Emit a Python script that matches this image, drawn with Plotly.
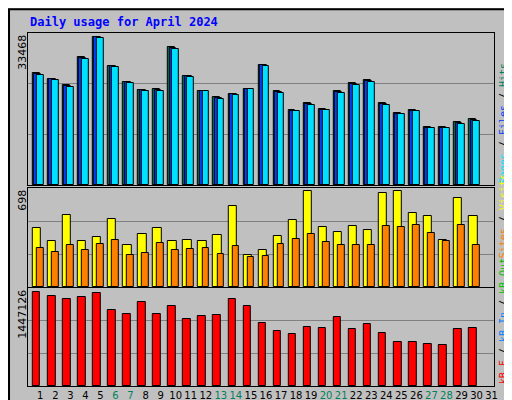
import plotly.graph_objects as go
from plotly.subplots import make_subplots

days = list(range(1, 31))
all_days = list(range(1, 32))
weekend = [6, 7, 13, 14, 20, 21, 27, 28]

hits = [24690, 23360, 22040, 28230, 32650, 26240, 22700, 20930, 21150, 30440,
        24030, 20710, 19380, 20050, 21150, 26460, 20710, 16510, 18060, 16730,
        20710, 22480, 23220, 18060, 15850, 16510, 12750, 12750, 13860, 14520]
files = [24500, 23250, 21800, 28000, 32550, 26130, 22590, 20820, 20930, 30200,
         23920, 20710, 19160, 19930, 21150, 26350, 20490, 16400, 17830, 16620,
         20490, 22260, 22950, 17830, 15730, 16400, 12640, 12640, 13630, 14300]
pages = [24250, 23140, 21590, 27780, 32430, 26020, 22480, 20710, 20710, 29990,
         23800, 20710, 18940, 19820, 21150, 26240, 20270, 16290, 17610, 16510,
         20270, 22040, 22700, 17610, 15620, 16290, 12530, 12530, 13410, 14080]
visits = [418, 323, 511, 323, 353, 477, 294, 375, 418, 323, 331, 323, 367, 572, 229,
          258, 360, 469, 674, 426, 389, 433, 404, 666, 674, 520, 499, 331, 630, 499]
sites = [272, 250, 294, 258, 302, 331, 229, 243, 309, 258, 265, 272, 236, 287, 214,
         221, 302, 338, 375, 316, 294, 294, 294, 433, 426, 440, 382, 323, 440, 294]
kbytes = [1391500, 1330800, 1285200, 1315600, 1376300, 1118300, 1057500, 1239700,
          1057500, 1179000, 996800, 1027200, 1042400, 1285200, 1179000, 936100,
          814700, 769100, 875400, 860200, 1012000, 845000, 920900, 784300, 647700,
          647700, 617300, 602100, 845000, 860200]

max_hits = 33468
max_visits = 698
max_kb = 1447126

fig = make_subplots(rows=3, cols=1, vertical_spacing=0.01)


def bar(y, color, offset, row, width=0.45):
    fig.add_trace(go.Bar(x=days, y=y, marker=dict(color=color, line=dict(color="black", width=1)),
                         offset=offset, width=width, showlegend=False, hoverinfo="y"), row=row, col=1)


bar(hits, "#00805C", -0.17, 1)
bar(files, "#0040FF", -0.08, 1)
bar(pages, "#00E0FF", 0.1, 1)
bar(visits, "#FFFF00", -0.17, 2, 0.55)
bar(sites, "#FF8000", 0.1, 2)
bar(kbytes, "#FF0000", -0.17, 3, 0.5)

xd = [0.039, 0.957]
doms = [[0.5575, 0.9375], [0.3025, 0.55], [0.055, 0.3]]
maxes = [max_hits, max_visits, max_kb]
for i in range(3):
    n = "" if i == 0 else str(i + 1)
    m = maxes[i]
    fig.layout["xaxis" + n].update(domain=xd, range=[0.5, 31.5], showgrid=False, zeroline=False,
                                   showline=True, linecolor="black", mirror=True,
                                   showticklabels=(i == 2), ticks="")
    fig.layout["yaxis" + n].update(domain=doms[i], range=[0, m], tickvals=[m / 3, 2 * m / 3],
                                   showticklabels=False, gridcolor="#808080", zeroline=False,
                                   showline=True, linecolor="black", mirror=True)

ticktext = [f'<span style="color:#00805C">{d}</span>' if d in weekend else str(d) for d in all_days]
fig.update_xaxes(tickvals=[d + 0.33 for d in all_days], ticktext=ticktext, tickangle=0,
                 tickfont=dict(family="DejaVu Sans", size=10, color="black"), row=3, col=1)

mono = "DejaVu Sans Mono"
fig.add_annotation(x=0.039, y=0.965, xref="paper", yref="paper", xanchor="left", yanchor="middle",
                   text="<b>Daily usage for April 2024</b>", showarrow=False,
                   font=dict(family=mono, size=12, color="#0000FF"))
for val, yy in [("33468", 0.9375), ("698", 0.55), ("1447126", 0.3)]:
    fig.add_annotation(x=0.028, y=yy, xref="paper", yref="paper", xanchor="center", yanchor="top",
                       text=val, textangle=-90, showarrow=False,
                       font=dict(family="DejaVu Sans", size=11, color="black"))

right = [
    ('<span style="color:#00E0FF">Pages</span> / <span style="color:#0040FF">Files</span> / '
     '<span style="color:#00805C">Hits</span>', 0.5575),
    ('<span style="color:#FF8000">Sites</span> / <span style="color:#FFFF00">Visits</span>', 0.37),
    ('<span style="color:#FF0000">kB F</span> / <span style="color:#0080FF">kB In</span> / '
     '<span style="color:#00C000">kB Out</span>', 0.055),
]
for txt, yy in right:
    fig.add_annotation(x=0.975, y=yy, xref="paper", yref="paper", xanchor="center", yanchor="bottom",
                       text=txt, textangle=-90, showarrow=False,
                       font=dict(family=mono, size=10, color="black"))

fig.add_shape(type="rect", xref="paper", yref="paper", x0=0.002, y0=0.003, x1=0.998, y1=0.997,
              line=dict(color="black", width=2))

fig.update_layout(width=512, height=400, margin=dict(l=0, r=0, t=0, b=0),
                  paper_bgcolor="#C0C0C0", plot_bgcolor="#C0C0C0", barmode="overlay",
                  bargap=0, showlegend=False)

fig.write_html("out.html")
